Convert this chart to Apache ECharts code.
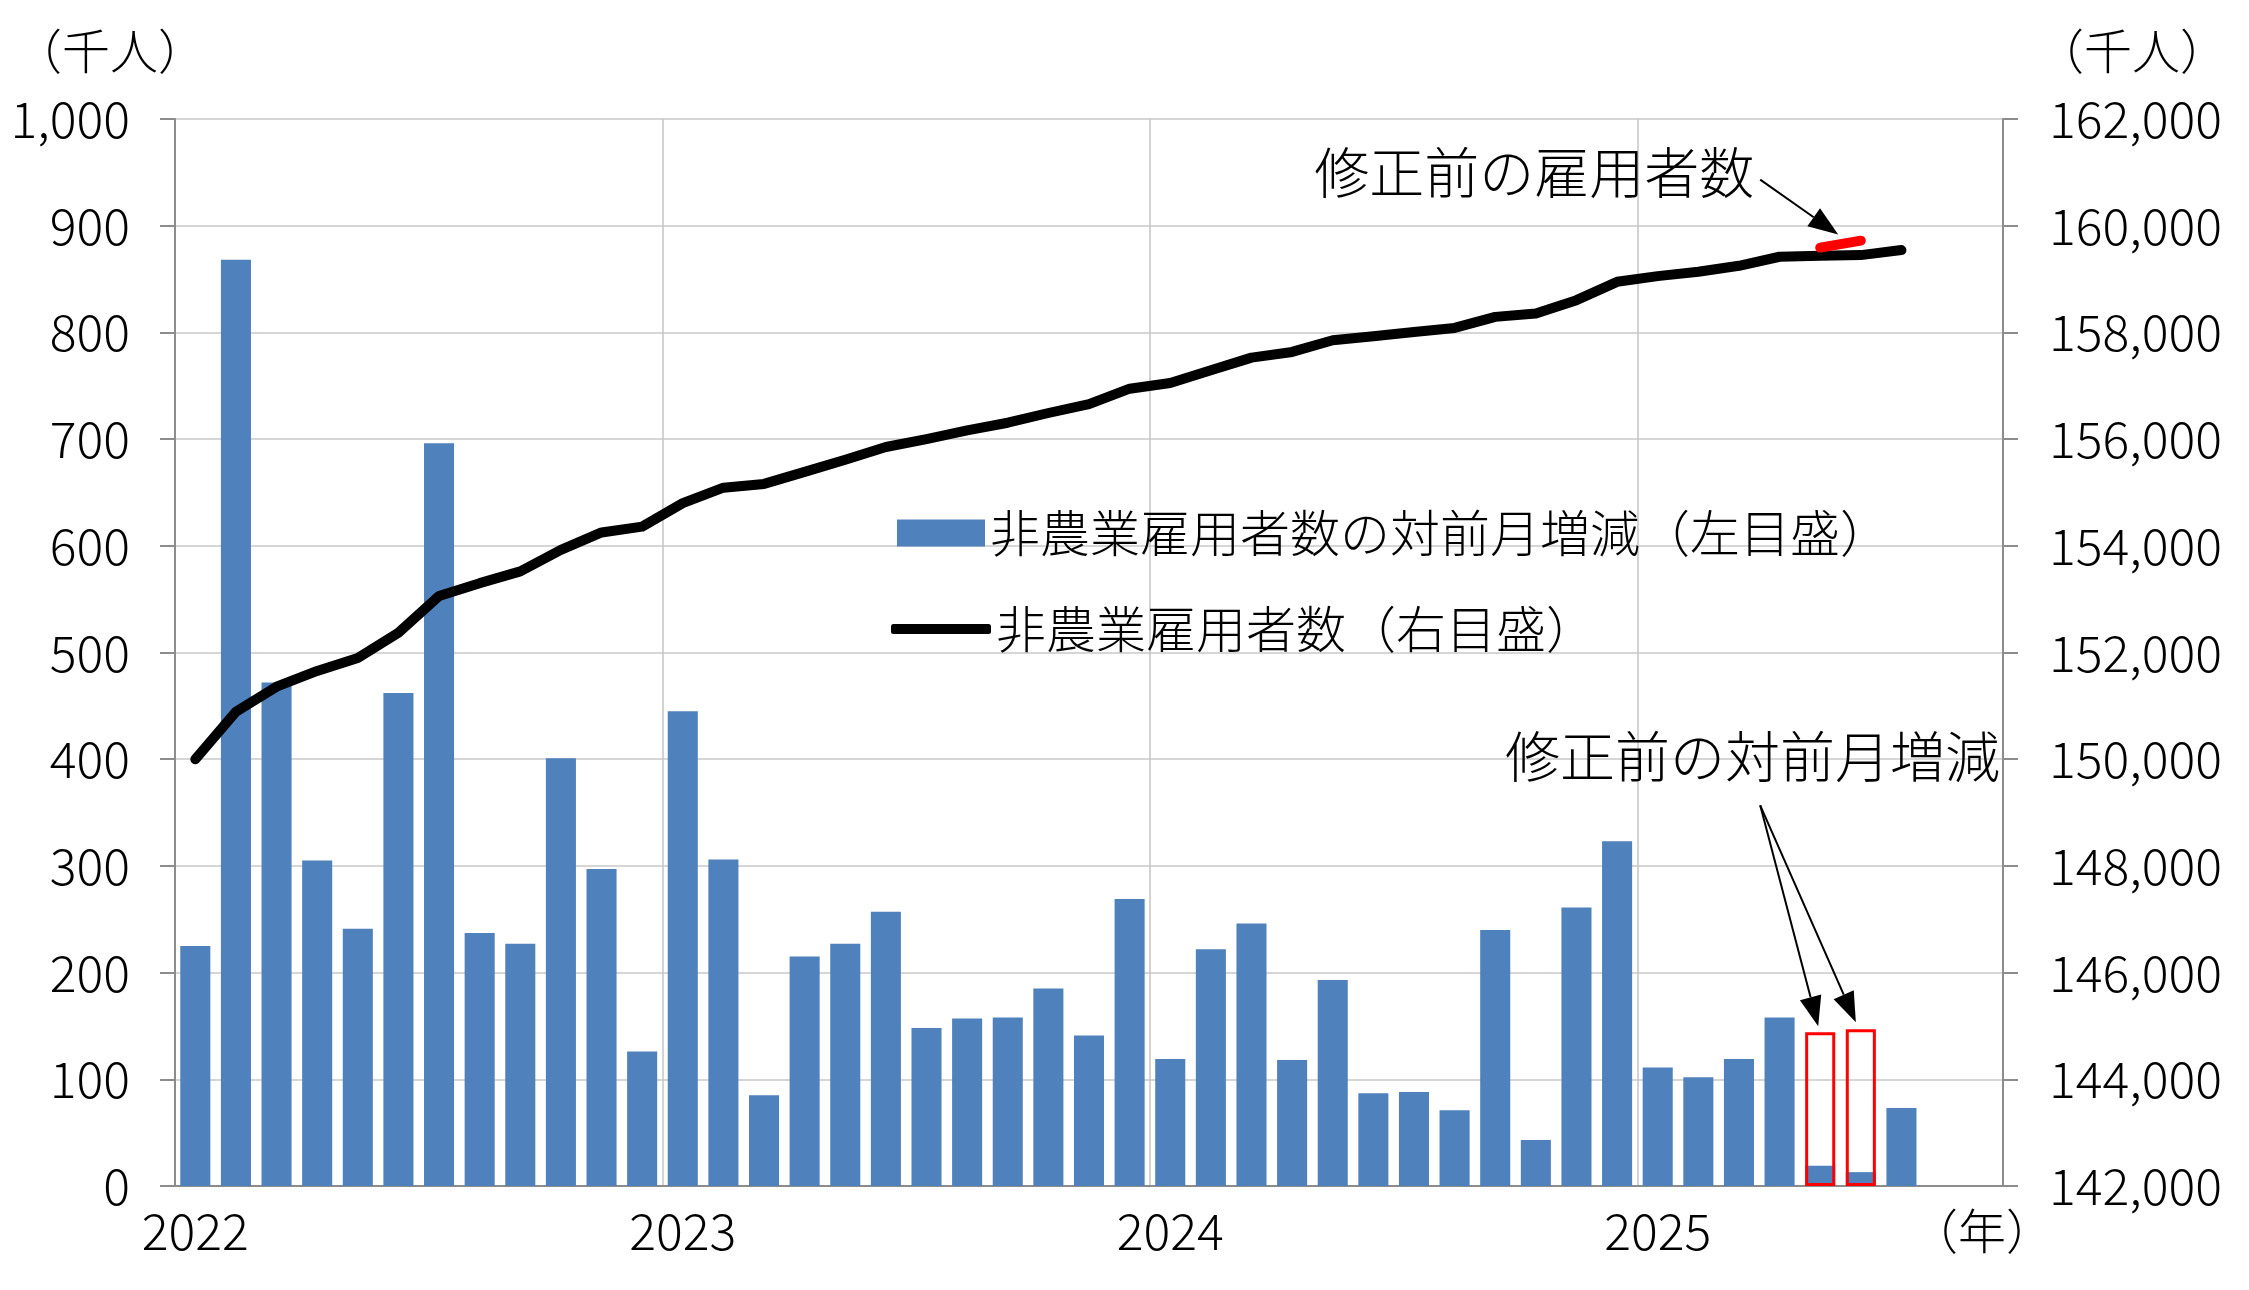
<!DOCTYPE html>
<html><head><meta charset="utf-8">
<script src="https://cdn.jsdelivr.net/npm/echarts@6/dist/echarts.min.js"></script>
<style>html,body{margin:0;padding:0;background:#fff}#c{width:2249px;height:1290px}</style>
</head><body><div id="c"></div>
<script>
const months = ['2022/1','2022/2','2022/3','2022/4','2022/5','2022/6','2022/7','2022/8','2022/9','2022/10','2022/11','2022/12',
'2023/1','2023/2','2023/3','2023/4','2023/5','2023/6','2023/7','2023/8','2023/9','2023/10','2023/11','2023/12',
'2024/1','2024/2','2024/3','2024/4','2024/5','2024/6','2024/7','2024/8','2024/9','2024/10','2024/11','2024/12',
'2025/1','2025/2','2025/3','2025/4','2025/5','2025/6','2025/7','2025/8','2025/9'];
const payrollChange = [225,868,472,305,241,462,696,237,227,401,297,126,
445,306,85,215,227,257,148,157,158,185,141,269,
119,222,246,118,193,87,88,71,240,43,261,323,
111,102,119,158,19,13,73,null,null];
const preRevisionChange = [null,null,null,null,null,null,null,null,null,null,null,null,
null,null,null,null,null,null,null,null,null,null,null,null,
null,null,null,null,null,null,null,null,null,null,null,null,
null,null,null,null,144,147,null,null,null];
const payrollLevel = [150000,150890,151360,151655,151895,152370,153060,153300,153520,153925,154250,154360,
154800,155090,155160,155385,155612,155852,156000,156164,156307,156489,156655,156945,
157052,157290,157527,157634,157853,157928,158009,158084,158291,158354,158604,158948,
159055,159136,159249,159418,159437,159449,159543,null,null];
const preRevisionLevel = [null,null,null,null,null,null,null,null,null,null,null,null,
null,null,null,null,null,null,null,null,null,null,null,null,
null,null,null,null,null,null,null,null,null,null,null,null,
null,null,null,null,159590,159720,null,null,null];
const leftTicks = {min:0, max:1000, interval:100};
const rightTicks = {min:142000, max:162000, interval:2000};
const nameChange = '非農業雇用者数の対前月増減（左目盛）';
const nameLevel = '非農業雇用者数（右目盛）';

const FONT = '"Noto Sans CJK JP", "Noto Sans", sans-serif';
const FW = 300;
const AXIS_C = '#8c8c8c', GRID_C = '#d6d6d6';
const chart = echarts.init(document.getElementById('c'));
const fmt = v => Number(v).toLocaleString('en-US');

chart.setOption({
  animation: false,
  textStyle: {fontFamily: FONT, fontWeight: FW},
  grid: {left: 175, right: 246, top: 119, bottom: 104, show: true, borderColor: AXIS_C, borderWidth: 2},
  legend: [
    {data: [{name: nameChange, icon: 'rect'}], left: 892, top: 499, itemWidth: 88, itemHeight: 27,
     textStyle: {fontSize: 50, color: '#000', fontFamily: FONT, fontWeight: FW, lineHeight: 58}, selectedMode: false},
    {data: [{name: nameLevel, icon: 'roundRect'}], left: 886, top: 595, itemWidth: 100, itemHeight: 10,
     textStyle: {fontSize: 50, color: '#000', fontFamily: FONT, fontWeight: FW, lineHeight: 58}, selectedMode: false}
  ],
  xAxis: {
    type: 'category', data: months, boundaryGap: true,
    axisLine: {lineStyle: {color: AXIS_C, width: 2}},
    axisTick: {show: false},
    axisLabel: {interval: 11, formatter: v => v.slice(0, 4), fontSize: 50, color: '#000', margin: 20, fontFamily: FONT, fontWeight: FW},
    splitLine: {show: true, interval: 11, lineStyle: {color: '#c4c4c4', width: 1.5}}
  },
  yAxis: [
    {type: 'value', min: leftTicks.min, max: leftTicks.max, interval: leftTicks.interval, position: 'left',
     axisLine: {show: true, lineStyle: {color: AXIS_C, width: 2}},
     axisTick: {show: true, length: 15, lineStyle: {color: AXIS_C, width: 2}},
     axisLabel: {formatter: fmt, fontSize: 50, color: '#000', margin: 45, fontFamily: FONT, fontWeight: FW},
     splitLine: {show: true, lineStyle: {color: GRID_C, width: 2}}},
    {type: 'value', min: rightTicks.min, max: rightTicks.max, interval: rightTicks.interval, position: 'right',
     axisLine: {show: true, lineStyle: {color: AXIS_C, width: 2}},
     axisTick: {show: true, length: 15, lineStyle: {color: AXIS_C, width: 2}},
     axisLabel: {formatter: fmt, fontSize: 50, color: '#000', margin: 46, fontFamily: FONT, fontWeight: FW},
     splitLine: {show: false}}
  ],
  series: [
    {name: nameChange, type: 'bar', data: payrollChange, barWidth: '74%', itemStyle: {color: '#4F81BD'}},
    {name: 'preChange', type: 'bar', data: preRevisionChange, barWidth: '74%', barGap: '-100%',
     itemStyle: {color: 'rgba(0,0,0,0)', borderColor: '#FF0000', borderWidth: 3}},
    {name: nameLevel, type: 'line', yAxisIndex: 1, data: payrollLevel, symbol: 'none', showSymbol: false,
     itemStyle: {color: '#000'}, lineStyle: {color: '#000', width: 10, cap: 'round', join: 'round'}},
    {name: 'preLevel', type: 'line', yAxisIndex: 1, data: preRevisionLevel, symbol: 'none', showSymbol: false,
     itemStyle: {color: '#FF0000'}, lineStyle: {color: '#FF0000', width: 10, cap: 'round'}}
  ]
});

function arrow(x1, y1, x2, y2, L, W, lw) {
  const dx = x2 - x1, dy = y2 - y1, d = Math.hypot(dx, dy);
  const ux = dx / d, uy = dy / d, nx = -uy, ny = ux;
  const bx = x2 - ux * L, by = y2 - uy * L;
  return [
    {type: 'line', shape: {x1: x1, y1: y1, x2: bx, y2: by}, style: {stroke: '#000', lineWidth: lw}, z: 100},
    {type: 'polygon', shape: {points: [[x2, y2], [bx + nx * W, by + ny * W], [bx - nx * W, by - ny * W]]}, style: {fill: '#000'}, z: 100}
  ];
}
const px = (i, v, ax) => chart.convertToPixel({xAxisIndex: 0, yAxisIndex: ax}, [months[i], v]);
const b40 = px(40, preRevisionChange[40], 0), b41 = px(41, preRevisionChange[41], 0);
const r40 = px(40, preRevisionLevel[40], 1);
const textBar = [b40[0] - 60, b40[1] - 227];
const textLine = [r40[0] - 60, r40[1] - 68];
const tStyle = (text, x, y, size, align) => ({type: 'text', style: {text: text, x: x, y: y, fontSize: size, fontFamily: FONT, fontWeight: FW, fill: '#000', align: align, verticalAlign: 'middle'}});
const g = [
  tStyle('（千人）', 110, 51, 48, 'center'),
  tStyle('（千人）', 2132, 51, 48, 'center'),
  tStyle('（年）', 1982, 1231, 48, 'center'),
  tStyle('修正前の雇用者数', textLine[0] - 6, textLine[1] - 7, 55, 'right'),
  tStyle('修正前の対前月増減', 2000, 756, 55, 'right')
].concat(
  arrow(textLine[0], textLine[1], r40[0] + 18, r40[1] - 13, 30, 11, 2),
  arrow(textBar[0], textBar[1], b40[0] - 2, b40[1] - 6, 30, 11, 2),
  arrow(textBar[0], textBar[1], b41[0] - 5, b41[1] - 7, 30, 11, 2)
);
chart.setOption({graphic: g});
</script></body></html>
